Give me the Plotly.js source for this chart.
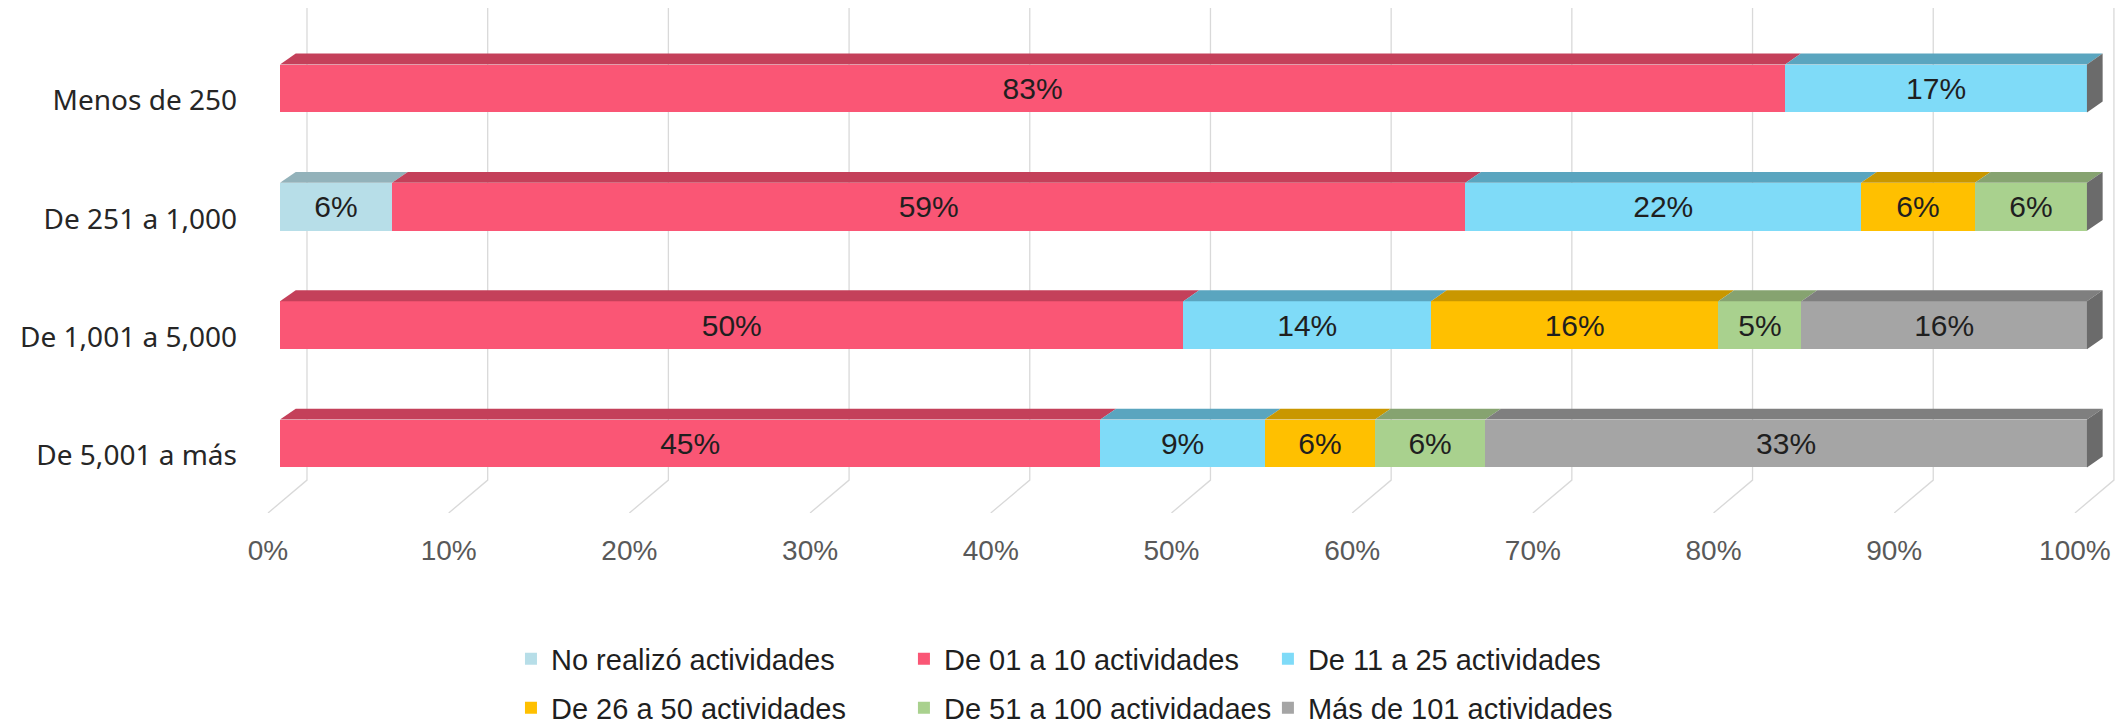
<!DOCTYPE html>
<html>
<head>
<meta charset="utf-8">
<script src="https://cdn.plot.ly/plotly-3.0.1.min.js"></script>
<style>html,body{margin:0;padding:0;background:#fff;}#chart{width:2123px;height:728px;}</style>
</head>
<body>
<div id="chart"></div>
<script>
// ---- data ----
const categories = ['Menos de 250', 'De 251 a 1,000', 'De 1,001 a 5,000', 'De 5,001 a más'];
const seriesNames = ['No realizó actividades', 'De 01 a 10 actividades', 'De 11 a 25 actividades',
                     'De 26 a 50 actividades', 'De 51 a 100 actividadaes', 'Más de 101 actividades'];
const noRealizo = [null, 6.2, null, null];
const de01a10   = [83.3, 59.4, 50.0, 45.4];
const de11a25   = [16.7, 21.9, 13.7, 9.1];
const de26a50   = [null, 6.3, 15.9, 6.1];
const de51a100  = [null, 6.2, 4.6, 6.1];
const mas101    = [null, null, 15.8, 33.3];
const tickVals  = [0, 10, 20, 30, 40, 50, 60, 70, 80, 90, 100];
const tickLabels = ['0%', '10%', '20%', '30%', '40%', '50%', '60%', '70%', '80%', '90%', '100%'];

// ---- styles ----
const series = [noRealizo, de01a10, de11a25, de26a50, de51a100, mas101];
const frontColors = ['#B7DEE8', '#FA5675', '#7FDBF8', '#FFC000', '#A9D18E', '#A5A5A5'];
const topColors   = ['#93B2BA', '#C4405A', '#5AA5BF', '#C99700', '#86A370', '#7F7F7F'];
const sideColor = '#6B6B6B';
const rowPos = categories.map((c, i) => i);
const W = 0.405;      // bar thickness (y units)
const DX = 0.87;      // depth offset of bar top face (x units)
const DY = 0.092;     // depth offset of bar top face (y units)
const GDX = 1.494;    // back wall offset of gridlines
const GFX = -0.664;   // floor front offset of gridlines
const Y_TOP = -0.68, Y_FLOOR_BACK = 3.309, Y_BOTTOM = 3.587;

const legendPos = [
  {x: 0.134, y: 0.0948}, {x: 0.3455, y: 0.0948}, {x: 0.5414, y: 0.0948},
  {x: 0.134, y: 0.0275}, {x: 0.3455, y: 0.0275}, {x: 0.5414, y: 0.0275}
];
const legendIds = ['legend', 'legend2', 'legend3', 'legend4', 'legend5', 'legend6'];

const traces = series.map((vals, s) => ({
  type: 'bar',
  orientation: 'h',
  name: seriesNames[s],
  x: vals,
  y: rowPos,
  width: W,
  marker: {color: frontColors[s], line: {width: 0}},
  texttemplate: '%{x:.0f}%',
  textposition: 'inside',
  insidetextanchor: 'middle',
  textangle: 0,
  constraintext: 'none',
  textfont: {family: 'Liberation Sans, Arial, sans-serif', size: 30, color: '#1f1f1f'},
  hoverinfo: 'skip',
  legend: legendIds[s]
}));

const shapes = [];
// gridlines: back wall + floor
tickVals.forEach(v => {
  shapes.push({
    type: 'path', xref: 'x', yref: 'y', layer: 'below',
    path: `M${v + GDX},${Y_TOP} L${v + GDX},${Y_FLOOR_BACK} L${v + GFX},${Y_BOTTOM}`,
    line: {color: '#D9D9D9', width: 1.3}
  });
});
// 3D top and side faces derived from the stacked values
rowPos.forEach((yi, i) => {
  let cum = 0;
  const yt = yi - W / 2, yb = yi + W / 2;
  series.forEach((vals, s) => {
    const v = vals[i];
    if (v == null || v <= 0) return;
    const a = cum, b = cum + v;
    shapes.push({
      type: 'path', xref: 'x', yref: 'y', layer: 'above',
      path: `M${a},${yt} L${b},${yt} L${b + DX},${yt - DY} L${a + DX},${yt - DY} Z`,
      fillcolor: topColors[s], line: {width: 0}
    });
    cum = b;
  });
  shapes.push({
    type: 'path', xref: 'x', yref: 'y', layer: 'above',
    path: `M${cum},${yt} L${cum + DX},${yt - DY} L${cum + DX},${yb - DY} L${cum},${yb} Z`,
    fillcolor: sideColor, line: {width: 0}
  });
});

const layout = {
  width: 2123, height: 728,
  margin: {l: 262, r: 3, t: 8, b: 215, autoexpand: false},
  paper_bgcolor: '#ffffff', plot_bgcolor: '#ffffff',
  barmode: 'stack',
  bargap: 0,
  xaxis: {
    range: [-0.996, 101.83], tickvals: tickVals, ticktext: tickLabels,
    showgrid: false, zeroline: false, showline: false, ticks: '',
    ticklabelshift: -12, ticklabelstandoff: 18, automargin: false,
    tickfont: {family: 'Liberation Sans, Arial, sans-serif', size: 28, color: '#595959'}
  },
  yaxis: {
    range: [Y_BOTTOM, Y_TOP], tickvals: rowPos, ticktext: categories,
    showgrid: false, zeroline: false, showline: false, ticks: '',
    ticklabelstandoff: 24, ticklabelshift: -12, automargin: false,
    tickfont: {family: 'Noto Sans, sans-serif', size: 28, color: '#262626'}
  },
  shapes: shapes,
  showlegend: true
};
legendIds.forEach((id, k) => {
  layout[id] = {
    x: legendPos[k].x, y: legendPos[k].y, xanchor: 'left', yanchor: 'middle',
    xref: 'paper', yref: 'container',
    orientation: 'h', bgcolor: 'rgba(0,0,0,0)',
    font: {family: 'Liberation Sans, Arial, sans-serif', size: 29, color: '#1f1f1f'}
  };
});

Plotly.newPlot('chart', traces, layout, {displayModeBar: false, staticPlot: true});
</script>
</body>
</html>
